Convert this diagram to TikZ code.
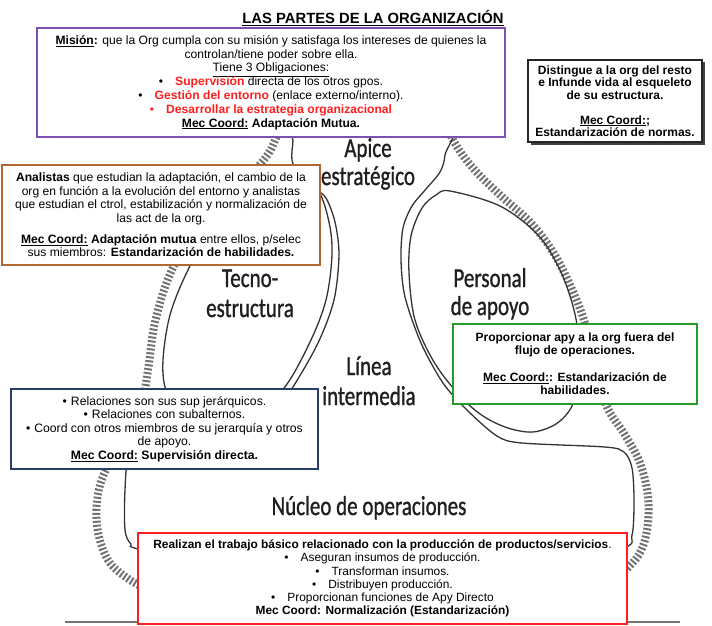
\documentclass[tikz,border=0pt]{standalone}
\usepackage{graphicx}
\usepackage{fontspec}
\setmainfont{Liberation Sans}
\newfontfamily\labelfont[FakeBold=1.2]{Carlito}
\usetikzlibrary{shadows}
\definecolor{cpurple}{RGB}{125,80,175}
\definecolor{cbrown}{RGB}{176,104,50}
\definecolor{cgreen}{RGB}{35,155,45}
\definecolor{cblue}{RGB}{40,62,105}
\definecolor{cred}{RGB}{255,30,30}
\newcommand\tallt[1]{\scalebox{1}[1.3]{#1}}
\begin{document}
\begin{tikzpicture}[x=1pt,y=-1pt,
  box/.style={draw, line width=1.8pt, fill=white, align=center, inner xsep=2pt, inner ysep=0pt, font=\fontsize{12.1}{13.5}\selectfont},
  outline/.style={draw=black!80, line width=1.3pt},
  hatch/.style={draw=black!55, line width=8pt, dash pattern=on 2pt off 2pt},
  biglabel/.style={font=\labelfont\fontsize{21}{21}\selectfont, text=black!88, inner sep=0pt, anchor=base},
]
\useasboundingbox (0,0) rectangle (712,626);

% ideology halo
\draw[hatch] plot[smooth, tension=0.6] coordinates {(285,110) (276,138) (262,162) (215,212) (176,262) (156,318) (148,370) (140,410) (118,448) (100,485) (97,525) (108,560) (130,580) (150,590)};
\draw[hatch] plot[smooth, tension=0.6] coordinates {(440,110) (453,140) (472,167) (500,195) (530,222) (553,252) (570,285) (584,320) (596,365) (606,405) (625,435) (640,463) (648,497) (647,530) (638,556) (615,580)};

% central body: apex, middle line, operating core
\draw[outline] plot[smooth cycle, tension=0.5] coordinates {(293,120) (293,140) (292,160) (300,178) (315,189) (326,198) (335,222) (339,255) (334,300) (318,343) (291,390) (262,428) (225,442) (150,443) (129,458) (125,490) (125,530) (131,544) (145,551) (300,590) (500,590) (620,550) (632,535) (634,500) (632,468) (624,452) (605,447) (522,443) (497,436) (467,410) (443,383) (421,343) (405,297) (401,260) (403,228) (412,206) (426,189) (440,172) (445,155) (445,120)};

% technostructure
\draw[outline] plot[smooth cycle, tension=0.55] coordinates {(296,172) (318,190) (329,222) (332,255) (326,300) (310,342) (284,388) (250,415) (212,425) (182,413) (166,390) (163,360) (170,315) (187,272) (212,228) (245,192) (272,176)};

% support staff
\draw[outline] plot[smooth cycle, tension=0.55] coordinates {(450,191) (500,206) (538,235) (560,270) (574,310) (580,350) (578,385) (571,408) (556,424) (533,432) (508,428) (483,416) (460,396) (434,362) (415,320) (409,273) (411,236) (422,208) (436,195)};

% big labels
\node[biglabel] (apice1) at (368,157) {\tallt{Apice}};
\node[biglabel] (apice2) at (368,185) {\tallt{estratégico}};
\node[biglabel] (tecno1) at (250,287) {\tallt{Tecno-}};
\node[biglabel] (tecno2) at (250,317) {\tallt{estructura}};
\node[biglabel] (personal1) at (490,287) {\tallt{Personal}};
\node[biglabel] (personal2) at (490,315) {\tallt{de apoyo}};
\node[biglabel] (linea1) at (369,375) {\tallt{Línea}};
\node[biglabel] (linea2) at (369,405) {\tallt{intermedia}};
\node[biglabel] (nucleo) at (369,515) {\tallt{Núcleo de operaciones}};

% base line
\coordinate (baseL) at (65,622);
\coordinate (baseR) at (680,622);
\draw[draw=black!55, line width=1.5pt] (baseL) -- (baseR);

% title
\node[font=\fontsize{14.8}{17}\selectfont\bfseries, anchor=base, inner sep=0pt] (title) at (373,24) {\underline{LAS PARTES DE LA ORGANIZACIÓN}};

% boxes
\node[box, draw=cpurple, minimum width=468pt, minimum height=109pt, font=\fontsize{12.1}{13.8}\selectfont] (mision) at (271,82.5) {%
\underline{\textbf{Misión}}\textbf{:} que la Org cumpla con su misión y satisfaga los intereses de quienes la\\
controlan/tiene poder sobre ella.\\
\underline{Tiene 3 Obligaciones:}\\
\textbullet\hspace{12pt}\textcolor{cred}{\textbf{Supervisión}} directa de los otros gpos.\\
\textbullet\hspace{12pt}\textcolor{cred}{\textbf{Gestión del entorno}} (enlace externo/interno).\\
\textcolor{cred}{\textbullet\hspace{12pt}\textbf{Desarrollar la estrategia organizacional}}\\
\underline{\textbf{Mec Coord:}} \textbf{Adaptación Mutua.}};

\node[box, draw=black!85, line width=1.3pt, font=\fontsize{12}{12.5}\selectfont\bfseries, minimum width=174pt, minimum height=82pt, drop shadow={shadow xshift=2.5pt, shadow yshift=-2.5pt, fill=black!75, opacity=1}] (cultura) at (615,101) {%
Distingue a la org del resto\\
e Infunde vida al esqueleto\\
de su estructura.\\[12.5pt]
\underline{Mec Coord:};\\
Estandarización de normas.};

\node[box, draw=cbrown, minimum width=318pt, minimum height=100pt] (analistas) at (161,215) {%
\textbf{Analistas} que estudian la adaptación, el cambio de la\\
org en función a la evolución del entorno y analistas\\
que estudian el ctrol, estabilización y normalización de\\
las act de la org.\\[7.5pt]
\underline{\textbf{Mec Coord:}} \textbf{Adaptación mutua} entre ellos, p/selec\\
sus miembros: \textbf{Estandarización de habilidades.}};

\node[box, draw=cgreen, minimum width=244pt, minimum height=80pt, font=\fontsize{12}{13}\selectfont\bfseries] (apoyo) at (575,364) {%
Proporcionar apy a la org fuera del\\
flujo de operaciones.\\[14pt]
\underline{Mec Coord:}: Estandarización de\\
habilidades.};

\node[box, draw=cblue, minimum width=307pt, minimum height=80pt, font=\fontsize{12.2}{13.5}\selectfont] (linea) at (164.5,429) {%
\textbullet\hspace{4pt}Relaciones son sus sup jerárquicos.\\
\textbullet\hspace{4pt}Relaciones con subalternos.\\
\textbullet\hspace{4pt}Coord con otros miembros de su jerarquía y otros\\
de apoyo.\\
\underline{\textbf{Mec Coord:}} \textbf{Supervisión directa.}};

\node[box, draw=cred, minimum width=489pt, minimum height=91pt, font=\fontsize{11.9}{13.2}\selectfont] (operaciones) at (382.5,578.5) {%
\textbf{Realizan el trabajo básico relacionado con la producción de productos/servicios}.\\
\textbullet\hspace{12pt}Aseguran insumos de producción.\\
\textbullet\hspace{12pt}Transforman insumos.\\
\textbullet\hspace{12pt}Distribuyen producción.\\
\textbullet\hspace{12pt}Proporcionan funciones de Apy Directo\\
\textbf{Mec Coord: Normalización (Estandarización)}};
\end{tikzpicture}
\end{document}
